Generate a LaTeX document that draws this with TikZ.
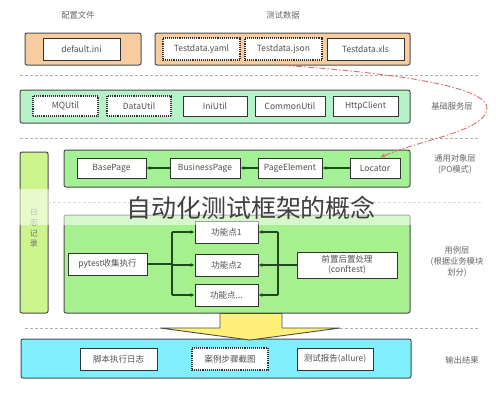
\documentclass[tikz,border=0pt]{standalone}
\usepackage{fontspec}
\setmainfont{Noto Sans CJK SC}
\usetikzlibrary{arrows.meta}
\definecolor{cfgfill}{HTML}{F7CDA0}
\definecolor{basefill}{HTML}{B5F2C8}
\definecolor{pofill}{HTML}{A4F096}
\definecolor{casefill}{HTML}{A6F090}
\definecolor{logfill}{HTML}{CDF58E}
\definecolor{outfill}{HTML}{80EEFC}
\definecolor{arrfill}{HTML}{FFF07A}
\definecolor{linkred}{HTML}{D77070}
\definecolor{dgreen}{HTML}{1F4A1F}
\definecolor{txt}{HTML}{505050}
\begin{document}
\begin{tikzpicture}[x=1pt,y=-1pt,
  inbox/.style={draw=black!80,fill=white,line width=0.9pt,minimum height=22pt,inner sep=1pt,
    font=\fontsize{8.5}{10}\selectfont,text=txt,align=center},
  dotbox/.style={inbox,densely dotted,line width=1.1pt},
  layer/.style={draw=black!70,line width=1pt,rounded corners=2pt,inner sep=0pt},
  lab/.style={font=\fontsize{8.3}{11}\selectfont,text=black!60,align=center},
  sep/.style={draw=black!30,densely dashed,line width=0.6pt},
  gline/.style={draw=dgreen,line width=1.1pt},
  garrow/.style={gline,-{Latex[length=4pt,width=4pt]}},
]
\useasboundingbox (0,0) rectangle (496,400);
\fill[white] (0,0) rectangle (496,400);

% top labels
\node[lab] (lcfg) at (78,15) {配置文件};
\node[lab] (ldata) at (283,15) {测试数据};

% config and test data layer
\node[layer,fill=cfgfill,minimum width=116pt,minimum height=32pt] (cfg) at (83,49) {};
\node[inbox,minimum width=77pt] (ini) at (81.5,49) {default.ini};
\node[layer,fill=cfgfill,minimum width=255pt,minimum height=32pt] (tdata) at (282.5,49) {};
\node[dotbox,minimum width=77pt] (yaml) at (201.5,49) {Testdata.yaml};
\node[dotbox,minimum width=77pt] (json) at (283.5,49) {Testdata.json};
\node[inbox,minimum width=77pt] (xls) at (365.5,49) {Testdata.xls};

\draw[sep] (20,75) -- (480,75);

% base service layer
\node[layer,fill=basefill,minimum width=390pt,minimum height=33pt] (base) at (215,106.5) {};
\node[dotbox,minimum width=65pt,minimum height=20pt] (mq) at (65.5,106) {MQUtil};
\node[dotbox,minimum width=64pt,minimum height=20pt] (du) at (139,106) {DataUtil};
\node[inbox,minimum width=64pt,minimum height=20pt] (iu) at (215,106) {IniUtil};
\node[inbox,minimum width=70pt,minimum height=20pt] (cu) at (290,106) {CommonUtil};
\node[inbox,minimum width=65pt,minimum height=20pt] (hc) at (365.5,106) {HttpClient};
\node[lab] (lbase) at (452,106) {基础服务层};

\draw[sep] (20,138) -- (480,138);

% PO layer
\node[layer,fill=pofill,minimum width=346pt,minimum height=37pt] (po) at (237,168.5) {};
\node[inbox,minimum width=69pt,minimum height=20pt] (bp) at (111.5,168) {BasePage};
\node[inbox,minimum width=70pt,minimum height=20pt] (bsp) at (205,168) {BusinessPage};
\node[inbox,minimum width=64pt,minimum height=20pt] (pe) at (290,168) {PageElement};
\node[inbox,minimum width=50pt,minimum height=20pt] (loc) at (375,168) {Locator};
\draw[garrow] (loc) -- (pe);
\draw[garrow] (pe) -- (bsp);
\draw[garrow] (bsp) -- (bp);
\node[lab] (lpo) at (455,164) {通用对象层\\(PO模式)};

% left log column
\node[layer,fill=logfill,minimum width=28pt,minimum height=161pt] (log) at (34,232.5) {};
\node[lab,text=black!55,font=\fontsize{8}{10.5}\selectfont] (logt) at (34,228) {日\\志\\记\\录};

\draw[sep] (48,202) -- (482,202);

% use case layer
\node[layer,fill=casefill,minimum width=346pt,minimum height=98pt] (case) at (237,264) {};
\node[inbox,minimum width=79pt] (py) at (107.5,264) {pytest收集执行};
\node[inbox,minimum width=63pt] (f1) at (226.5,232) {功能点1};
\node[inbox,minimum width=63pt] (f2) at (226.5,265) {功能点2};
\node[inbox,minimum width=63pt] (f3) at (226.5,295) {功能点...};
\node[inbox,minimum width=100pt,minimum height=26pt] (cf) at (347,265) {前置后置处理\\(conftest)};
\coordinate (bl) at (172,264);
\coordinate (bl1) at (172,232);
\coordinate (bl2) at (172,265);
\coordinate (bl3) at (172,295);
\coordinate (br) at (278,265);
\coordinate (br1) at (278,232);
\coordinate (br3) at (278,295);
\draw[gline] (py.east) -- (bl);
\draw[gline] (bl1) -- (bl3);
\draw[garrow] (bl1) -- (f1);
\draw[garrow] (bl2) -- (f2);
\draw[garrow] (bl3) -- (f3);
\draw[gline] (cf.west) -- (br);
\draw[gline] (br1) -- (br3);
\draw[garrow] (br1) -- (f1);
\draw[garrow] (br) -- (f2);
\draw[garrow] (br3) -- (f3);
\node[lab] (lcase) at (457,262) {用例层\\(根据业务模块\\划分)};

% separator with yellow arrow
\draw[sep] (25,328) -- (160,328);
\draw[sep] (340,328) -- (480,328);

% output layer
\node[layer,fill=outfill,minimum width=390pt,minimum height=39pt] (out) at (216,358.5) {};
\node[inbox,minimum width=77pt] (o1) at (118.5,359) {脚本执行日志};
\node[dotbox,minimum width=76pt] (o2) at (230,359) {案例步骤截图};
\node[inbox,minimum width=76pt] (o3) at (335,359) {测试报告(allure)};
\node[lab] (lout) at (462,360) {输出结果};

\draw[draw=black!70,line width=0.9pt,fill=arrfill,line join=round]
  (220,313.5) -- (282,313.5) -- (282,328) -- (340,328) -- (250,340) -- (160,328) -- (220,328) -- cycle;

% red dash-dot link
\coordinate (rs) at ([xshift=2.5pt]tdata.south);
\coordinate (re) at ([xshift=5pt]loc.north);
\draw[linkred,line width=0.9pt,dash pattern=on 6pt off 2pt on 1.5pt off 2pt,-{Latex[length=5pt,width=4pt]}]
  (rs) .. controls (380,72) and (492,85) .. (487,110)
       .. controls (482,132) and (420,140) .. (re);

% title overlay
\fill[white,opacity=0.55] (0,189) rectangle (496,225);
\node[font=\fontsize{25}{28}\selectfont,text=black!75] (title) at (251,208) {自动化测试框架的概念};
\end{tikzpicture}
\end{document}
